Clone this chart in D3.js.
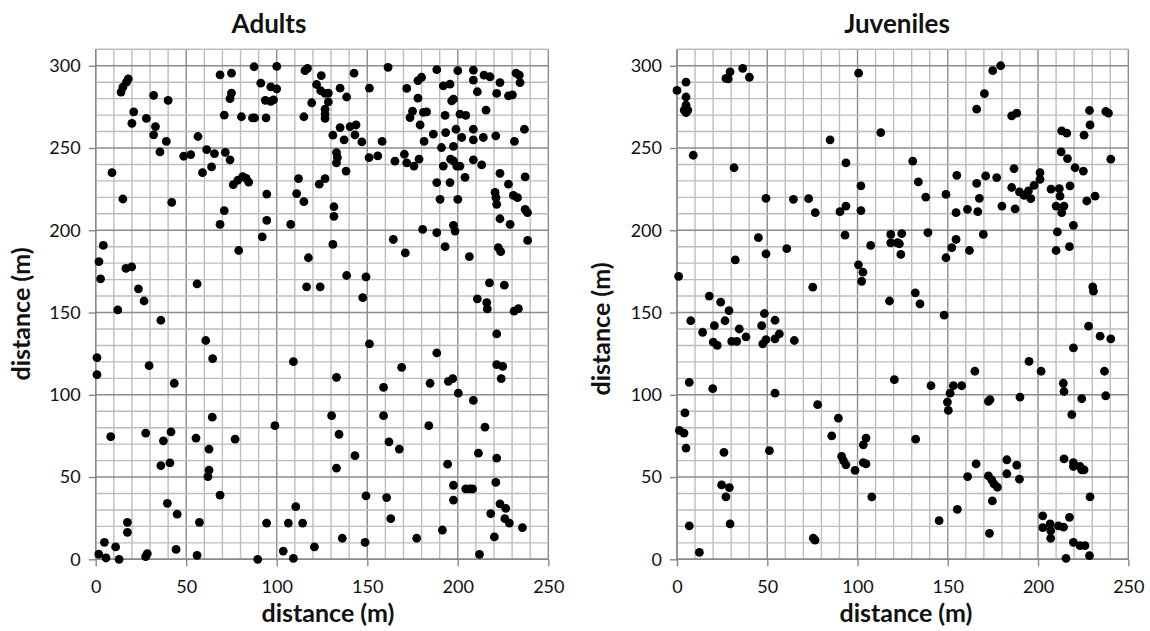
<!DOCTYPE html>
<html><head><meta charset="utf-8">
<script src="https://cdn.jsdelivr.net/npm/d3@7"></script>
<style>body{margin:0;background:#fff} svg{display:block} text{font-family:Lato,"Open Sans",sans-serif;fill:#111}</style>
</head><body><svg id="c" width="1150" height="631"></svg>
<script>
const xTicks=[0,50,100,150,200,250];
const yTicks=[0,50,100,150,200,250,300];
const panelTitles=["Adults","Juveniles"];
const axisTitle="distance (m)";
const adults=[
[9,235],[15,219],[14,284],[15,287],[17,290],[18,292],[21,272],[20,265],[28,268],[32,282],[40,279],[33,263],[32,258],[39,254],[35.5,247.6],[42,217],[56.5,257],[48.6,245],[52.5,246],[61.3,249],[65.6,246.6],[59,235],[64,238.5],[71.6,247.4],[74.2,242.8],[68.7,294.5],[75,295.5],[75,283.4],[74.2,280],[71,270],[80.5,269],[86.6,268.3],[87.8,268.3],[94.1,268.3],[87.5,299.4],[91.2,289.4],[96.7,287.2],[100,286],[93.7,279],[96.7,278.3],[98.2,279.3],[100,299.6],[76,227.7],[78.5,230.4],[81.2,232.6],[83.1,231.6],[84.5,229.3],[94.5,222],[71,212],[94.5,206],
[115.6,297],[117,298.4],[124.6,294],[122,288.6],[124.3,284.8],[126.7,283.2],[128.5,283.4],[135,286.4],[138.6,281],[142.7,295.5],[151.2,286.4],[161.5,299],[119.3,277.5],[128.5,278],[115,269],[126.7,273.6],[126.7,270.6],[126.7,268],[135,262.4],[131,257.8],[140.5,263],[143.8,264],[137.2,255],[143.2,258],[147,253.7],[158.2,254],[133,247.2],[133.5,244.2],[133,241],[138.3,236],[151,244.2],[155.8,245.2],[165.3,242],[170.5,246.2],[171.8,241],[175.8,239],[178.6,243.2],[112,231.4],[111,222.3],[115,217.4],[123.5,228],[126.7,231.4],[131.6,214.3],[131.6,208.5],[171.8,286.2],[178,291],[180,293],[178,280.3],[175,272.4],[173.6,268.5],[181,271.6],[182.8,272],[179.2,264],[186.5,258.4],[181.4,254],[188.4,297.6],[192,287.8],[195.7,288.8],[200,297],[196.6,278.7],[197.6,279.7],[193,269.8],[201.2,270.6],[204.4,269.8],[193.3,259.4],[199,261.4],[202.2,256.4],[191,250.3],[197.6,251],[208.6,297.4],[208.6,291.3],[214.5,294.3],[217.8,293.3],[223.3,289.8],[210.8,284.2],[221.5,283.2],[228,281.7],[230.2,282.3],[232.2,295.5],[234,294.3],[234.4,289.8],[215.6,273],[208.6,261.4],[208.6,255],[214.1,256.4],[221,257.4],[236.8,261.4],[231.3,254],[196,243.2],[197.6,242.2],[199.4,239],[201.2,239],[192,239],[208.6,242.8],[213.2,239.7],[188.4,229],[195.7,229],[204,232.2],[190.2,218.8],[200,218.8],[223.3,234.6],[228,228],[237.2,232.4],[220.6,223],[221.1,219.8],[221.5,215.8],[230.7,221.2],[233,219.8],[237.2,212.7],[238.5,210.7],[223.3,207],
[107.7,203.6],[228.9,203.6],[197.6,203],[198.5,199.5],[180.6,200.5],[188.4,198.5],[238.6,193.8],[164.4,194.4],[171,186.3],[193,190],[206.4,184],[222.4,189.4],[223.7,187],[131,191.4],[117.5,183.3],[138.6,172.5],[149.3,171.7],[116.5,165.6],[124,165.6],[147.5,159],[217.5,168],[225.7,166.6],[210.8,158.3],[216,156],[216.3,152.2],[231.1,150.8],[233.5,152.4],[221.5,137],[151.2,131],[188.4,125.4],[109.2,120.1],[221.5,118.3],[224.8,117.3],[169,116.7],[133,110.6],[224,109.8],[184.7,107],[194.8,108.2],[197.2,109.8],[159,104.5],[200.3,101],[208.6,96.6],[130.3,87.3],[159,87.3],
[134.4,76],[184,81.2],[215,80.4],[162,71.4],[167.7,67],[143.2,63],[133,55.4],[211.4,64.5],[221.5,61.5],[194.4,57.8],[197.6,45],[204.4,42.8],[206.8,42.8],[208.2,42.8],[221,46.7],[197.6,36],[149.3,38.5],[160.7,37.5],[163,24.7],[223.3,33.7],[226.5,31],[218.2,27.8],[226,24.7],[228.5,22],[235.7,19.3],[191.5,17.8],[220.2,13.6],[177.3,12.8],[136.2,12.8],[148.8,10.3],[120.8,7.5],[103.6,5],[109.2,0.6],[212,3],[110.5,32],[106.4,22],[114.3,22],
[8.3,74.5],[27.6,76.7],[37.4,72],[41.6,77.5],[36,57],[41,58.6],[55.4,73.7],[64.4,86.4],[62.6,67],[62.6,54.2],[62,50.3],[68.7,39],[77,73],[99,81.2],[39.6,34],[45,27.4],[57.3,22.5],[17.5,22.5],[17.5,16.4],[4.8,10.3],[11,7.5],[1.7,3.2],[5.7,0.8],[12.9,0],[27.6,1.6],[28.5,3.4],[44.4,6],[56,2.4],[89.5,0],[94.4,22],
[68.7,203.6],[92,196],[79,187.7],[4.2,190.8],[1.8,181],[2.7,170.5],[16.7,176.8],[19.9,177.8],[23.6,164.4],[26.7,157],[12.2,151.6],[36,145.3],[56,167.4],[60.8,133],[64.6,122],[0.7,122.6],[0.7,112.2],[29.5,117.7],[43.4,107]
];
const juveniles=[
[0,285],[5,290],[5,281],[5,276],[4,273],[6,273],[5,271.5],[9,245.6],[28.4,292],[29.4,296.3],[27.1,292.3],[36.4,298.4],[40.1,293],[31.6,238],[84.8,255],[100.6,295.5],[93.6,241],[101.9,227],[49.3,219.4],[64.5,218.8],[72.9,219.2],[76.6,210.7],[90.3,211.3],[93.6,214.7],[101.9,212],
[112.9,259.4],[130.6,242],[133.7,229.4],[137.8,220.2],[149,221.8],[155,233.4],[154.6,210.7],[160.9,212.7],[166,228.5],[167.5,219.4],[166.6,211.3],[171,233],[177.1,232],[166,273.6],[170.3,283],[174.9,297],[179.3,300],[185.4,269.5],[188.2,271.2],[180,214.7],[186.7,237.5],[185.4,226],[189.7,223.3],[192.3,221.2],[194.7,224],[196,219.2],[197.8,227.3],[201.1,235],[201.1,231],[187.3,213],[207.2,225],[211.8,225.3],[217.7,227],[212.2,220.8],[210,214.7],[214.4,214.7],[213.1,210.7],[212.8,247.6],[216.3,243.6],[213.1,260.4],[215.9,259],[225.5,257.8],[228.8,264],[228.5,272.8],[237.5,272.2],[239,271.2],[240.3,243.2],[220.5,238],[225.1,236],[227,217.8],[231.6,220.8],
[219.6,203],[210.7,199],[210,187.7],[217.4,190],[118.4,197.5],[124.5,198],[118.4,192.4],[122.1,192.4],[123.2,191.8],[124,185.3],[107.3,190.8],[139,198.5],[154.6,194.4],[152.2,189.4],[149,183.3],[162,187.7],[169.7,197.5],[100.5,179],[103,174.5],[102.3,169],[230.3,165.6],[230.7,163],[132,162],[117.7,157],[134.6,155.3],[148,148.4],[228,141.7],[234.4,135.6],[240.3,134],[219.6,128.5],[195,120.3],[201.7,114.3],[236.8,114.3],[165,114.3],[120.4,109.2],[140.7,105.5],[153.1,105.5],[157.7,105.5],[151.3,101],[149.8,95.6],[150.3,90.5],[172.5,96],[173.4,97],[190,98.6],[214,107],[214.4,102],[224.2,97.6],[237.5,99.4],[218.7,88],
[104.7,73.7],[103.2,69.6],[103.2,58.8],[104.7,58],[107.9,38],[132.2,73],[145.2,23.5],[155.3,30.4],[161,50.3],[165.7,58],[172.5,50.7],[174.3,48.3],[175.6,45.8],[177.5,43.8],[174.7,35.5],[173.1,15.8],[182.7,60.5],[182.7,52],[188.2,57.2],[189.7,48.7],[202.6,26.4],[202.6,19.3],[206.7,21.5],[207,17.4],[207,12.8],[211.3,20.3],[214.1,19.5],[217.4,25.5],[214.4,61],[219.6,58.8],[219.6,56.4],[223.3,56.4],[224.2,54.4],[225.5,54.4],[228.8,38],[219.6,10.3],[223.3,8.3],[226,8.3],[228.5,2.2],[215.5,0.6],
[77.9,94],[89.4,85.8],[85.7,75],[91.2,62.5],[92.2,60],[93.6,57.4],[98.6,54],[1.3,78.3],[3.9,76.7],[4.4,89],[5,67.6],[6.8,20.3],[12.4,4.2],[26,65],[24.7,45.2],[29,43.6],[27.1,38],[29.4,21.5],[51.2,66],[75.5,12.8],[76.5,11.7],
[93.1,197],[45.1,195.5],[60.8,188.8],[49.3,185.7],[32.3,182],[0.9,172],[75.2,165.4],[17.9,160],[24.2,156.3],[28.8,151.2],[7.6,145],[26.6,145],[14.2,138],[20.7,142],[34.5,140],[20.1,132],[22.3,130],[30.3,132.5],[33.1,132.5],[38.2,135.2],[48.4,149.4],[46.9,142],[54.3,145.3],[47.5,131],[49.3,133.5],[54.3,134],[56.7,137],[65,133],[6.8,107.6],[19.8,103.7],[54.3,101]
];

const svg=d3.select("#c");
const plotTop=49.3, plotBottom=559.3;
const panels=[
 {title:panelTitles[0],data:adults,left:95.7,right:548.3,titleX:269,xTitleX:328,yTitleX:30,yTitleY:314},
 {title:panelTitles[1],data:juveniles,left:677,right:1128.3,titleX:897,xTitleX:906,yTitleX:610,yTitleY:329}
];
panels.forEach(p=>{
  const x=d3.scaleLinear().domain([0,250]).range([p.left,p.right]);
  const y=d3.scaleLinear().domain([0,310]).range([plotBottom,plotTop]);
  const g=svg.append("g");
  const xs=d3.range(0,251,10), ys=d3.range(0,311,10);
  g.selectAll(".vx").data(xs).join("line").attr("class","vx")
    .attr("x1",d=>x(d)).attr("x2",d=>x(d)).attr("y1",y(0)).attr("y2",y(310))
    .attr("stroke",d=>d%50===0?"#8c8c8c":"#bdbdbd").attr("stroke-width",1.4);
  g.selectAll(".hy").data(ys).join("line").attr("class","hy")
    .attr("y1",d=>y(d)).attr("y2",d=>y(d)).attr("x1",x(0)).attr("x2",x(250))
    .attr("stroke",d=>d%50===0?"#8c8c8c":"#bdbdbd").attr("stroke-width",1.4);
  const xa=d3.axisBottom(x).tickValues(xTicks).tickSize(7).tickPadding(14);
  const ya=d3.axisLeft(y).tickValues(yTicks).tickSize(7).tickPadding(8);
  const gx=g.append("g").attr("transform",`translate(0,${plotBottom})`).call(xa);
  const gy=g.append("g").attr("transform",`translate(${p.left},0)`).call(ya);
  [gx,gy].forEach(a=>{
    a.select(".domain").attr("stroke","#888").attr("stroke-width",1.4);
    a.selectAll(".tick line").attr("stroke","#888").attr("stroke-width",1.4);
    a.selectAll(".tick text").attr("font-family","Lato").attr("font-size",18).attr("fill","#111");
  });
  gx.selectAll(".tick text").attr("dy",0);
  gy.select(".domain").attr("d",`M0,${y(310)}V${plotBottom}`);
  gx.select(".domain").attr("d",`M${p.left},0H${p.right}`);
  gx.selectAll(".tick text").attr("y",34);
  g.selectAll("circle").data(p.data).join("circle")
    .attr("cx",d=>x(d[0])).attr("cy",d=>y(d[1])).attr("r",4.4).attr("fill","#000");
  g.append("text").attr("x",p.titleX).attr("y",33).attr("text-anchor","middle")
    .attr("font-weight","bold").attr("font-size",26).text(p.title);
  g.append("text").attr("x",p.xTitleX).attr("y",622).attr("text-anchor","middle")
    .attr("font-weight","bold").attr("font-size",25).text(axisTitle);
  g.append("text").attr("transform",`translate(${p.yTitleX},${p.yTitleY}) rotate(-90)`).attr("text-anchor","middle")
    .attr("font-weight","bold").attr("font-size",25).text(axisTitle);
});
</script></body></html>
